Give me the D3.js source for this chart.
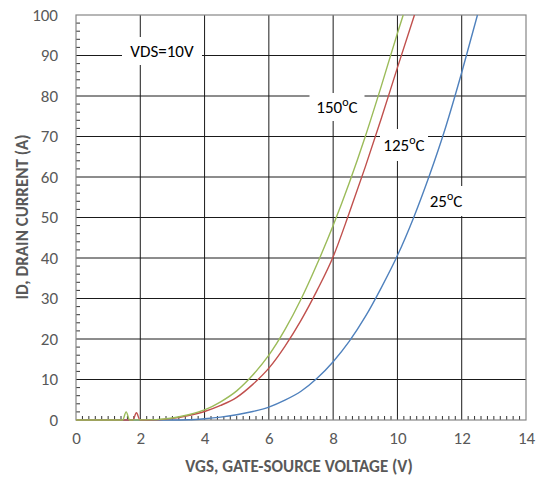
<!DOCTYPE html>
<html><head><meta charset="utf-8">
<script src="https://cdn.jsdelivr.net/npm/d3@7"></script>
<style>body{margin:0;background:#fff}</style>
</head><body>
<svg id="c" width="539" height="477"></svg>
<script>
// Data (VGS in V, ID in A)
const xTicks = [0,2,4,6,8,10,12,14];
const yTicks = [0,10,20,30,40,50,60,70,80,90,100];
const vgs150 = [0,1.45,1.56,1.67,2.5,3,3.5,4,4.5,5,5.5,6,6.5,7,7.5,8,8.5,9,9.5,10,10.18];
const id150  = [0,0,2.0,0,0.1,0.5,1.3,2.5,4.5,7.2,11.1,16,22.3,29.8,38.5,48,58.5,70,82.5,95.5,100];
const vgs125 = [0,1.77,1.88,1.99,2.5,3,3.5,4,4.5,5,5.5,6,6.5,7,7.5,8,8.5,9,9.5,10,10.53];
const id125  = [0,0,1.8,0,0.05,0.4,1.1,2.1,3.6,5.6,8.8,12.8,18.2,24.6,32,40.3,51.1,62.5,74.5,87,100];
const vgs25  = [0,3,3.5,4,4.5,5,5.5,6,6.5,7,7.5,8,8.5,9,9.5,10,10.5,11,11.5,12,12.49];
const id25   = [0,0,0.05,0.3,0.7,1.3,2.1,3.2,4.9,7.1,10.3,14.4,19.4,25.5,32.7,40.6,49.9,60.5,72.3,85.8,100];
const seriesNames = ["25","125","150"];
const seriesColors = ["#4F81BD","#C0504D","#9BBB59"];

const svg = d3.select("#c");
const L=76, R=526, T=15, B=420;
const x = d3.scaleLinear().domain([0,14]).range([L,R]);
const y = d3.scaleLinear().domain([0,100]).range([B,T]);
const font = "Calibri, Carlito, Lato, 'Open Sans', sans-serif";

// grid
const g = svg.append("g");
g.selectAll("line.vg").data(xTicks.filter(d=>d>0&&d<14)).join("line")
  .attr("x1",d=>x(d)).attr("x2",d=>x(d)).attr("y1",T).attr("y2",B)
  .attr("stroke","#1a1a1a").attr("stroke-width",1);
g.selectAll("line.hg").data(yTicks.filter(d=>d>0&&d<100)).join("line")
  .attr("x1",L).attr("x2",R).attr("y1",d=>y(d)).attr("y2",d=>y(d))
  .attr("stroke","#1a1a1a").attr("stroke-width",1);

// minor ticks
const xMinor = d3.range(0,14.001,0.2).filter(v=>Math.abs(v/2-Math.round(v/2))>1e-6);
g.selectAll("line.xm").data(xMinor).join("line")
  .attr("x1",d=>x(d)).attr("x2",d=>x(d)).attr("y1",B).attr("y2",B-4)
  .attr("stroke","#333").attr("stroke-width",1);
const yMinor = d3.range(0,100.001,2).filter(v=>v%10!==0);
g.selectAll("line.ym").data(yMinor).join("line")
  .attr("x1",L).attr("x2",L+4).attr("y1",d=>y(d)).attr("y2",d=>y(d))
  .attr("stroke","#333").attr("stroke-width",1);

// frame
svg.append("rect").attr("x",L).attr("y",T).attr("width",R-L).attr("height",B-T)
  .attr("fill","none").attr("stroke","#868686").attr("stroke-width",1.2);

// axes labels
const yAxis = d3.axisLeft(y).tickValues(yTicks).tickSize(0).tickPadding(18);
const ya = svg.append("g").attr("transform",`translate(${L},0)`).call(yAxis);
ya.select(".domain").remove();
ya.selectAll("text").attr("font-family",font).attr("font-size",17).attr("fill","#595959");
const xAxis = d3.axisBottom(x).tickValues(xTicks).tickSize(0).tickPadding(12);
const xa = svg.append("g").attr("transform",`translate(0,${B})`).call(xAxis);
xa.select(".domain").remove();
xa.selectAll("text").attr("font-family",font).attr("font-size",17).attr("fill","#595959");

// text label boxes (white masks over grid)
function label(cx, cy, w, h, parts){
  svg.append("rect").attr("x",cx-w/2).attr("y",cy-h/2).attr("width",w).attr("height",h).attr("fill","#fff");
  const t = svg.append("text").attr("x",cx).attr("y",cy).attr("dy","0.35em")
    .attr("text-anchor","middle").attr("font-family",font).attr("font-size",17).attr("fill","#000");
  parts.forEach(p=>{
    const s = t.append("tspan").text(p.t);
    if(p.sup) s.attr("font-size",12).attr("dy","-0.55em");
    if(p.down) s.attr("dy","0.4em");
  });
}
label(162,51,80,28,[{t:"VDS=10V"}]);
label(337,107,55,28,[{t:"150"},{t:"o",sup:true},{t:"C",down:true}]);
label(404,145,48,32,[{t:"125"},{t:"o",sup:true},{t:"C",down:true}]);
label(446,201,38,30,[{t:"25"},{t:"o",sup:true},{t:"C",down:true}]);

// curves
const line = d3.line().x(d=>x(d[0])).y(d=>y(d[1])).curve(d3.curveMonotoneX);
const data = [d3.zip(vgs25,id25), d3.zip(vgs125,id125), d3.zip(vgs150,id150)];
svg.selectAll("path.s").data(data).join("path")
  .attr("d",line).attr("fill","none")
  .attr("stroke",(d,i)=>seriesColors[i]).attr("stroke-width",1.4);

// axis titles
svg.append("text").attr("x",299).attr("y",466).attr("dy","0.35em").attr("text-anchor","middle")
  .attr("font-family",font).attr("font-size",17).attr("font-weight","bold").attr("fill","#595959")
  .text("VGS, GATE-SOURCE VOLTAGE (V)");
svg.append("text").attr("transform","translate(22,217) rotate(-90)").attr("dy","0.35em").attr("text-anchor","middle")
  .attr("font-family",font).attr("font-size",17).attr("font-weight","bold").attr("fill","#595959")
  .text("ID, DRAIN CURRENT (A)");
</script>
</body></html>
